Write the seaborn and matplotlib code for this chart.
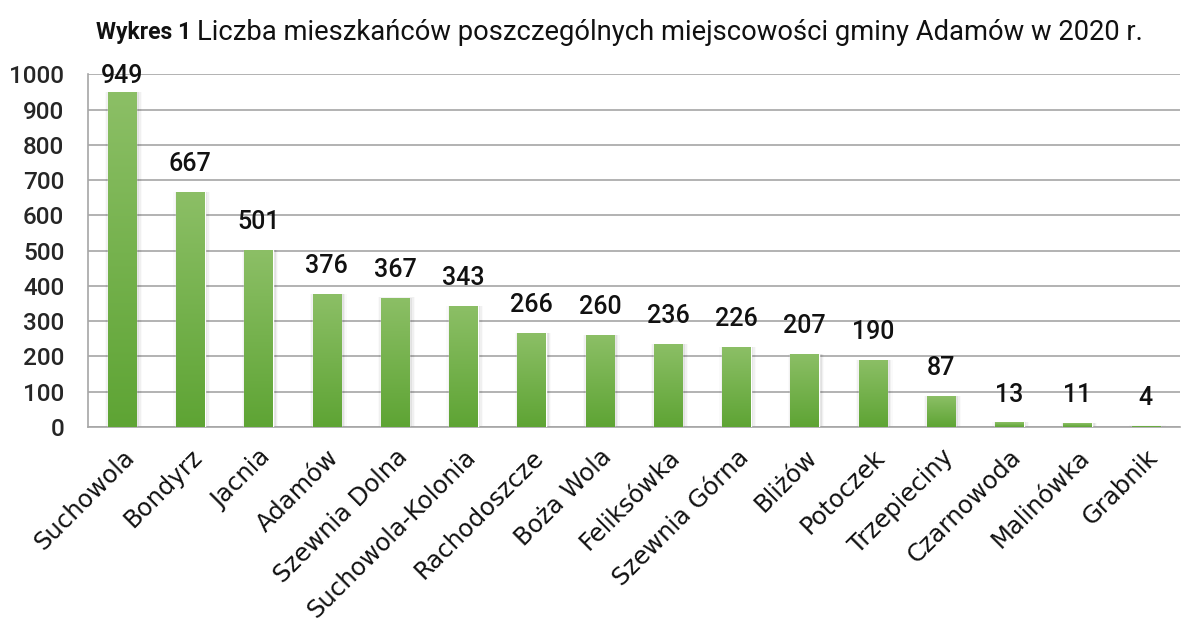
import numpy as np
import pandas as pd
import seaborn as sns
import matplotlib.pyplot as plt
from matplotlib.colors import LinearSegmentedColormap

places = ["Suchowola", "Bondyrz", "Jacnia", "Adamów", "Szewnia Dolna", "Suchowola-Kolonia",
          "Rachodoszcze", "Boża Wola", "Feliksówka", "Szewnia Górna", "Bliżów", "Potoczek",
          "Trzepieciny", "Czarnowoda", "Malinówka", "Grabnik"]
residents = [949, 667, 501, 376, 367, 343, 266, 260, 236, 226, 207, 190, 87, 13, 11, 4]

df = pd.DataFrame({"place": places, "residents": residents})

sns.set_style("white")
plt.rcParams['font.family'] = ['DejaVu Sans']

fig = plt.figure(figsize=(11.84, 6.24), dpi=100)
ax = fig.add_axes([0.0743, 0.3157, 0.9223, 0.5653])

sns.barplot(data=df, x="place", y="residents", color="#6aab40", width=0.42, ax=ax, zorder=3)

# gradient fill + soft shadow for each bar
cmap = LinearSegmentedColormap.from_list("g", ["#5ea434", "#8cbf66"])
grad = np.linspace(0, 1, 256).reshape(-1, 1)
for p in ax.patches:
    x0, w, h = p.get_x(), p.get_width(), p.get_height()
    for k, a in enumerate([0.06, 0.04, 0.02]):
        d = 0.02 * (k + 1)
        ax.add_patch(plt.Rectangle((x0 - d + 0.02, 0), w + 2 * d, h + d * 6, color="black",
                                   alpha=a, lw=0, zorder=2))
    im = ax.imshow(grad, extent=[x0, x0 + w, 0, h], origin="lower", aspect="auto",
                   cmap=cmap, zorder=3.5)
    im.set_clip_path(p)
    ax.text(x0 + w / 2, min(h + 45, 962), str(int(h)), ha="center", va="bottom",
            fontsize=18, fontfamily="Roboto", fontweight="medium", color="#111111", zorder=5)

ax.set_xlim(-0.5, len(places) - 0.5)
ax.set_ylim(0, 1000)
ax.set_yticks(range(0, 1001, 100))
ax.set_yticklabels([str(v) for v in range(0, 1001, 100)], fontsize=17.5, fontfamily="Roboto",
                   fontweight="medium")
ax.grid(axis="y", color="#a6a6a6", lw=1.2, zorder=0)
ax.set_axisbelow(True)
ax.set_xlabel("")
ax.set_ylabel("")

ax.set_xticks(range(len(places)))
ax.set_xticklabels(places, rotation=45, ha="right", rotation_mode="anchor", fontsize=17.5,
                   fontfamily="DejaVu Sans", color="#111111")
ax.tick_params(axis="x", which="major", length=0, pad=13)
ax.set_xticks(np.arange(0.5, len(places) - 0.5, 1), minor=True)
ax.tick_params(axis="x", which="minor", length=7, color="#a6a6a6", width=1.2, direction="out")
ax.tick_params(axis="y", length=7, color="#a6a6a6", width=1.2, pad=10)

for s in ["top", "right"]:
    ax.spines[s].set_visible(False)
for s in ["left", "bottom"]:
    ax.spines[s].set_color("#a6a6a6")
    ax.spines[s].set_linewidth(1.2)

fig.text(0.081, 0.948, "Wykres 1", fontsize=16.5, fontweight="bold", fontfamily="Roboto",
         ha="left", va="center", color="#111111")
fig.text(0.166, 0.948, "Liczba mieszkańców poszczególnych miejscowości gminy Adamów w 2020 r.",
         fontsize=19.7, fontfamily="Roboto", ha="left", va="center", color="#111111")

fig.savefig("out.png", dpi=100, facecolor="white")
